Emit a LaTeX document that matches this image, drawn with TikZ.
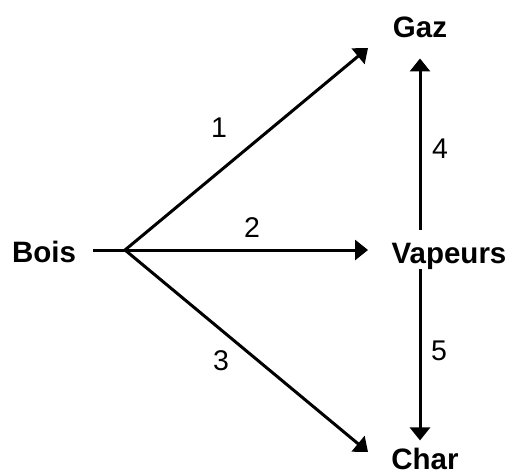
\documentclass[tikz,border=0pt]{standalone}
\usepackage{fontspec}
\setmainfont{Liberation Sans}
\usetikzlibrary{arrows.meta}

\tikzset{
  species/.style={inner sep=0pt,anchor=base,font=\fontsize{29.5}{34}\selectfont\bfseries},
  stepnum/.style={inner sep=0pt,anchor=base,font=\fontsize{28.5}{34}\selectfont},
  flow/.style={line width=3pt,-{Triangle[length=13pt,width=20pt]}},
  plain/.style={line width=3pt}
}

\begin{document}
\begin{tikzpicture}[x=1pt,y=-1pt]
  \useasboundingbox (0,0) rectangle (511,475);
  % species
  \node[species] (bois) at (44,262) {Bois};
  \node[species] (gaz) at (420,37) {Gaz};
  \node[species] (vapeurs) at (449,263) {Vapeurs};
  \node[species] (char) at (425,469) {Char};

  % fork and arrow ends
  \coordinate (fork) at (125,250);
  \coordinate (gaztip) at (368,48);
  \coordinate (vaptip) at (368,250);
  \coordinate (chartip) at (368,452);

  % primary reactions
  \draw[plain] (bois.east |- fork) ++(17,0) -- (fork);
  \draw[flow] (fork) -- (gaztip);
  \draw[flow] (fork) -- (vaptip);
  \draw[flow] (fork) -- (chartip);

  % secondary reactions
  \draw[flow,shorten <=13pt,shorten >=21pt] (gaz.south |- vapeurs.north) -- (gaz.south);
  \draw[flow,shorten >=7pt] (gaz.south |- vapeurs.south) -- (gaz.south |- char.north);

  % step numbers
  \node[stepnum] (n1) at (219,137) {1};
  \node[stepnum] (n2) at (252,237) {2};
  \node[stepnum] (n3) at (221,370) {3};
  \node[stepnum] (n4) at (440,158) {4};
  \node[stepnum] (n5) at (439,360) {5};
\end{tikzpicture}
\end{document}
